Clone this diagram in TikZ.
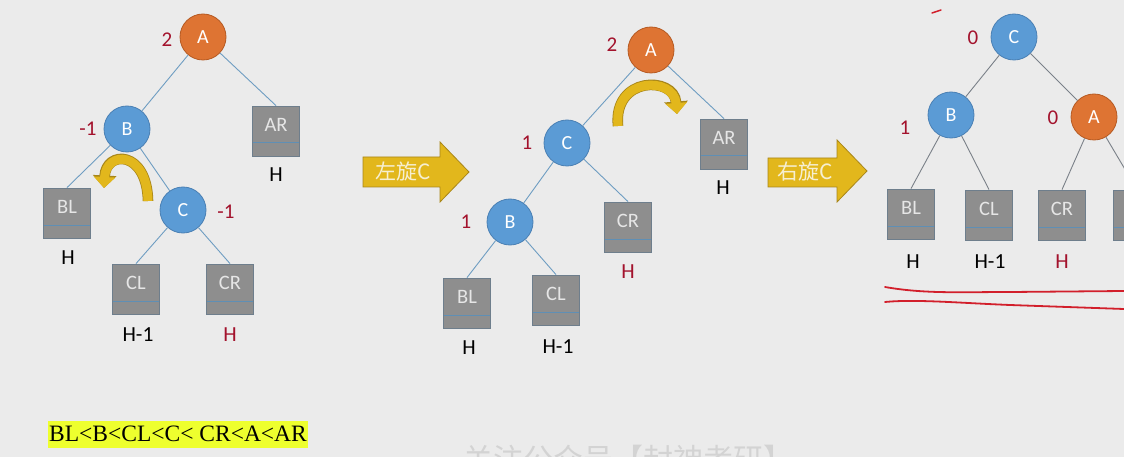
\documentclass[tikz,border=0pt]{standalone}
\usepackage{fontspec}
\setmainfont{Carlito}
\newfontfamily\cjkfont{Noto Sans CJK SC}
\newfontfamily\timesfont{Liberation Serif}
\usetikzlibrary{arrows.meta}
\definecolor{bgcol}{HTML}{EBEBEB}
\definecolor{bluefill}{HTML}{5B9BD5}
\definecolor{blueline}{HTML}{4A80B4}
\definecolor{orangefill}{HTML}{DE7433}
\definecolor{orangeline}{HTML}{B65A22}
\definecolor{boxfill}{HTML}{8E8E8E}
\definecolor{boxline}{HTML}{6E7E8C}
\definecolor{stripline}{HTML}{5F8FB5}
\definecolor{boxtext}{HTML}{E6E6E6}
\definecolor{edgeblue}{HTML}{6E9DC2}
\definecolor{edgegrey}{HTML}{7A8088}
\definecolor{balred}{HTML}{A3122C}
\definecolor{arrowyellow}{HTML}{E2B71C}
\definecolor{arrowedge}{HTML}{A8861A}
\definecolor{arrowtext}{HTML}{F6EFD2}
\definecolor{hilite}{HTML}{EEFF2E}
\definecolor{penred}{HTML}{D21F2B}
\definecolor{wmark}{HTML}{D3D3D3}
\tikzset{
  circnode/.style={circle,minimum size=46pt,inner sep=0pt,font=\fontsize{20}{20}\selectfont,text=white,line width=0.8pt},
  bnode/.style={circnode,fill=bluefill,draw=blueline},
  onode/.style={circnode,fill=orangefill,draw=orangeline},
  leafbox/.style={rectangle,minimum width=47pt,minimum height=50pt,inner sep=0pt,fill=boxfill,draw=boxline,line width=0.8pt,
    path picture={\draw[stripline,line width=1pt] ([yshift=13pt]path picture bounding box.south west) -- ([yshift=13pt]path picture bounding box.south east);},
    label={[yshift=6pt,text=boxtext,font=\fontsize{20.5}{20.5}\selectfont]center:#1}},
  ht/.style={font=\fontsize{21.5}{21.5}\selectfont,text=black},
  htred/.style={ht,text=balred},
  bal/.style={font=\fontsize{21}{21}\selectfont,text=balred},
  edgeb/.style={draw=edgeblue,line width=0.9pt},
  edgeg/.style={draw=edgegrey,line width=0.9pt},
  bigarrow/.style={fill=arrowyellow,draw=arrowedge,line width=0.8pt},
  arrowlbl/.style={font=\cjkfont\fontsize{21}{21}\selectfont,text=arrowtext},
  rotarrow/.style={line width=9pt,draw=arrowyellow,-{Triangle[width=21pt,length=11pt]},
    preaction={draw=arrowedge,line width=10.6pt,-{Triangle[width=23pt,length=12.5pt]}}},
  penline/.style={draw=penred,line width=1.8pt,line cap=round}
}
\begin{document}
\begin{tikzpicture}[x=1pt,y=-1pt]
\useasboundingbox (0,0) rectangle (1124,457);
\clip (0,0) rectangle (1124,457);
\fill[bgcol] (0,0) rectangle (1124,457);

% ---------- tree 1 ----------
\node[onode] (a1) at (203,37) {A};
\node[bnode] (b1) at (127,129) {B};
\node[bnode] (c1) at (183,210) {C};
\node[leafbox=AR] (ar1) at (276,131) {};
\node[leafbox=BL] (bl1) at (67,213) {};
\node[leafbox=CL] (cl1) at (136,289) {};
\node[leafbox=CR] (cr1) at (230,289) {};
\node[bal] (a1b) at (167,40) {2};
\node[bal] (b1b) at (88,129) {-1};
\node[bal] (c1b) at (226,212) {-1};
\node[ht] (ar1h) at (276,175) {H};
\node[ht] (bl1h) at (68,258) {H};
\node[ht] (cl1h) at (138,335) {H-1};
\node[htred] (cr1h) at (230,335) {H};
\draw[edgeb] (a1) -- (b1);
\draw[edgeb] (a1) -- (ar1.north);
\draw[edgeb] (b1) -- (bl1.north);
\draw[edgeb] (b1) -- (c1);
\draw[edgeb] (c1) -- (cl1.north);
\draw[edgeb] (c1) -- (cr1.north);
\coordinate (r1s) at (148,201);
\coordinate (r1e) at (104,188);
\draw[rotarrow] (r1s) .. controls (147,150) and (106,150) .. (r1e);

% ---------- arrow 1 ----------
\draw[bigarrow] (363,157) -- (440,157) -- (440,142) -- (469,172) -- (440,202) -- (440,187) -- (363,187) -- cycle;
\node[arrowlbl] (lbl1) at (403,172) {左旋C};

% ---------- tree 2 ----------
\node[onode] (a2) at (651,50) {A};
\node[bnode] (c2) at (567,143) {C};
\node[bnode] (b2) at (510,222) {B};
\node[leafbox=AR] (ar2) at (724,144) {};
\node[leafbox=CR] (cr2) at (628,227) {};
\node[leafbox=BL] (bl2) at (467,303) {};
\node[leafbox=CL] (cl2) at (556,300) {};
\node[bal] (a2b) at (612,45) {2};
\node[bal] (c2b) at (527,143) {1};
\node[bal] (b2b) at (466,222) {1};
\node[ht] (ar2h) at (723,188) {H};
\node[htred] (cr2h) at (628,272) {H};
\node[ht] (bl2h) at (469,348) {H};
\node[ht] (cl2h) at (558,347) {H-1};
\draw[edgeb] (a2) -- (c2);
\draw[edgeb] (a2) -- (ar2.north);
\draw[edgeb] (c2) -- (b2);
\draw[edgeb] (c2) -- (cr2.north);
\draw[edgeb] (b2) -- (bl2.north);
\draw[edgeb] (b2) -- (cl2.north);
\coordinate (r2s) at (618,126);
\coordinate (r2e) at (677,114);
\draw[rotarrow] (r2s) .. controls (613,76) and (674,76) .. (r2e);

% ---------- arrow 2 ----------
\draw[bigarrow] (768,158) -- (837,158) -- (837,140) -- (867,171) -- (837,202) -- (837,187) -- (768,187) -- cycle;
\node[arrowlbl] (lbl2) at (805,172) {右旋C};

% ---------- tree 3 ----------
\node[bnode] (c3) at (1014,37) {C};
\node[bnode] (b3) at (951,115) {B};
\node[onode] (a3) at (1094,117) {A};
\node[leafbox=BL] (bl3) at (911,214) {};
\node[leafbox=CL] (cl3) at (989,215) {};
\node[leafbox=CR] (cr3) at (1062,215) {};
\node[leafbox=AR] (ar3) at (1137,215) {};
\node[bal] (c3b) at (973,38) {0};
\node[bal] (b3b) at (905,128) {1};
\node[bal] (a3b) at (1053,118) {0};
\node[ht] (bl3h) at (913,262) {H};
\node[ht] (cl3h) at (990,262) {H-1};
\node[htred] (cr3h) at (1062,262) {H};
\draw[edgeg] (c3) -- (b3);
\draw[edgeg] (c3) -- (a3);
\draw[edgeg] (b3) -- (bl3.north);
\draw[edgeg] (b3) -- (cl3.north);
\draw[edgeg] (a3) -- (cr3.north);
\draw[edgeg] (a3) -- (ar3.north);

% ---------- pen marks ----------
\draw[penline] (885,287) .. controls (925,294) and (960,292) .. (1010,292) -- (1124,291);
\draw[penline] (885,302) .. controls (915,299) and (960,303) .. (1010,305) -- (1124,309);
\draw[penline,line width=1.5pt] (932,13) -- (941,10);

% ---------- order text ----------
\node[fill=hilite,minimum width=260pt,minimum height=27pt,inner sep=0pt,font=\timesfont\fontsize{23.5}{23.5}\selectfont,text=black] (order) at (178,434) {BL<B<CL<C< CR<A<AR};

% ---------- watermark ----------
\node[anchor=base,inner sep=0pt,font=\cjkfont\fontsize{30}{30}\selectfont,text=wmark] (wm) at (628,470) {关注公众号【封神考研】};
\end{tikzpicture}
\end{document}
